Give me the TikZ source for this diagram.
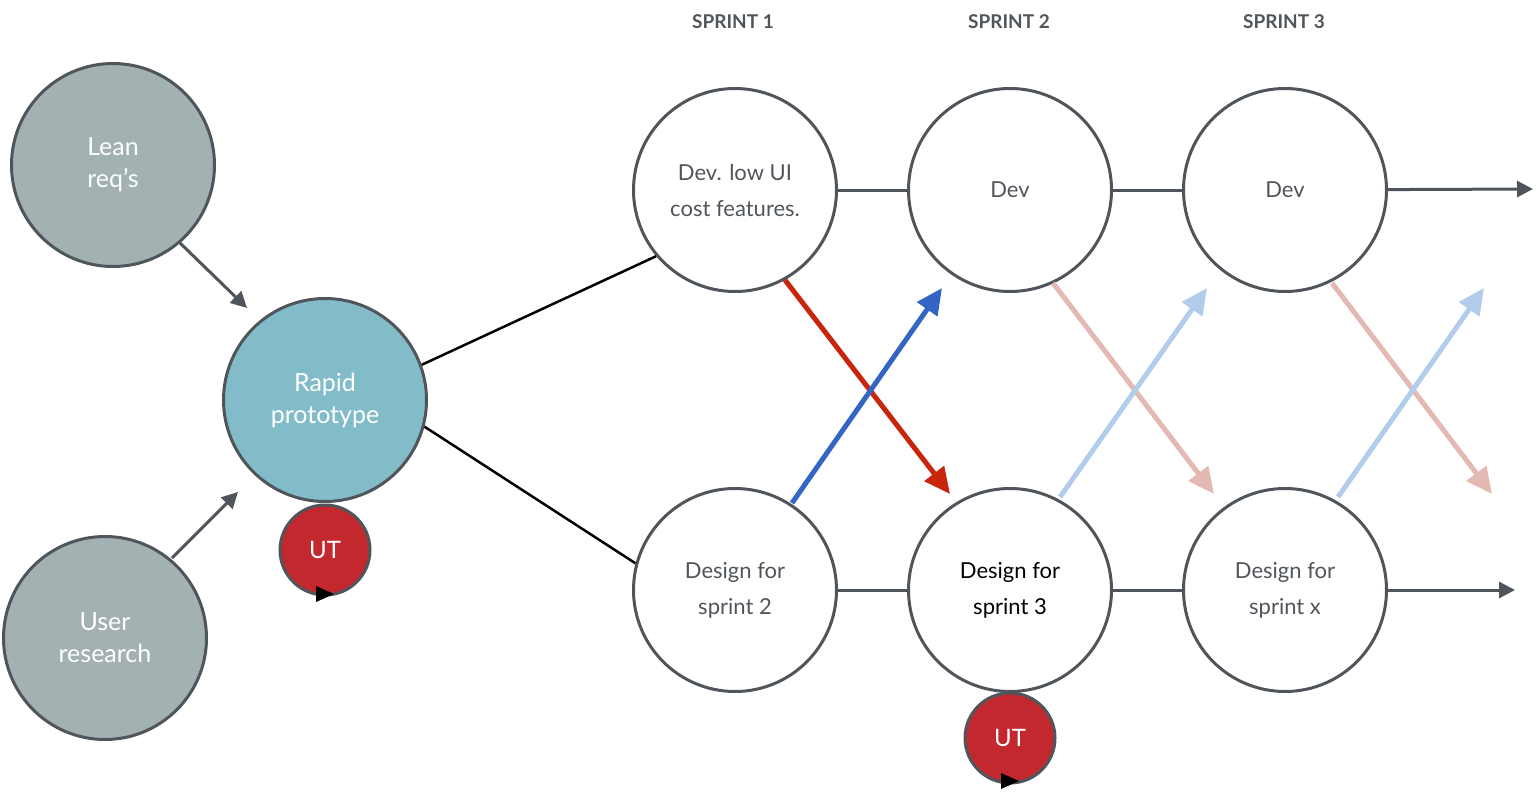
\documentclass[tikz,border=0pt]{standalone}
\usepackage{fontspec}
\setmainfont{Lato}
\usetikzlibrary{arrows.meta}
\definecolor{edge}{HTML}{50555C}
\definecolor{grayf}{HTML}{A3B1B3}
\definecolor{tealf}{HTML}{83BCC9}
\definecolor{utred}{HTML}{C4282F}
\definecolor{ared}{HTML}{C8250D}
\definecolor{ablue}{HTML}{3565C4}
\definecolor{fred}{HTML}{E4B8B3}
\definecolor{fblue}{HTML}{B2CDEC}
\begin{document}
\begin{tikzpicture}[x=1pt,y=-1pt,
  big/.style={circle,draw=edge,line width=3pt,minimum size=203pt,inner sep=0pt,align=center,font=\fontsize{25}{32}\selectfont\color{white}},
  wnode/.style={circle,draw=edge,line width=3pt,fill=white,minimum size=203pt,inner sep=0pt,align=center,font=\fontsize{22}{36}\selectfont\color{edge}},
  ut/.style={circle,draw=edge,line width=3pt,fill=utred,minimum size=90pt,inner sep=0pt,font=\fontsize{24}{28}\selectfont\color{white}},
  conn/.style={draw=edge,line width=3pt},
  garrow/.style={draw=edge,line width=3pt,-{Triangle[length=16pt,width=16pt]}},
  thin/.style={draw=black,line width=2.5pt},
  band/.style={line width=5pt,-{Triangle[length=26pt,width=24pt]}},
  hdr/.style={font=\bfseries\fontsize{19}{22}\selectfont\color{edge}}]
\useasboundingbox (0,0) rectangle (1539,795);
\node[hdr] (s1) at (733,22) {SPRINT 1};
\node[hdr] (s2) at (1009,22) {SPRINT 2};
\node[hdr] (s3) at (1284,22) {SPRINT 3};
\node[big,fill=grayf] (lean) at (113,165) {Lean\\req’s};
\node[big,fill=grayf] (user) at (105,638) {User\\research};
\node[big,fill=tealf] (rapid) at (325,400) {Rapid\\prototype};
\node[ut] (ut1) at (325,550) {UT};
\fill[black] (316,586) -- (334,594) -- (316,602) -- cycle;
\node[wnode] (d1) at (735,190) {Dev. low UI\\cost features.};
\node[wnode] (d2) at (1010,190) {Dev};
\node[wnode] (d3) at (1285,190) {Dev};
\node[wnode] (g2) at (735,590) {Design for\\sprint 2};
\node[wnode,font=\fontsize{22}{36}\selectfont\color{black}] (g3) at (1010,590) {Design for\\sprint 3};
\node[wnode] (gx) at (1285,590) {Design for\\sprint x};
\node[ut] (ut2) at (1010,738) {UT};
\fill[black] (1001,773) -- (1019,781) -- (1001,789) -- cycle;
\coordinate (e1) at (1533,189);
\coordinate (e2) at (1515,590);
\coordinate (la) at (180,243); \coordinate (lb) at (247,308);
\coordinate (ua) at (172,558); \coordinate (ub) at (238,492);
\draw[garrow] (la) -- (lb);
\draw[garrow] (ua) -- (ub);
\draw[thin] (rapid.20) -- (d1.220);
\draw[thin] (rapid.-15) -- (g2.165);
\draw[conn] (d1) -- (d2); \draw[conn] (d2) -- (d3);
\draw[garrow] (d3) -- (e1);
\draw[conn] (g2) -- (g3); \draw[conn] (g3) -- (gx);
\draw[garrow] (gx) -- (e2);
\coordinate (r1a) at (785,280); \coordinate (r1b) at (950,494);
\coordinate (b1a) at (792,503); \coordinate (b1b) at (942,288);
\coordinate (r2a) at (1053,283); \coordinate (r2b) at (1214,494);
\coordinate (r3a) at (1332,283); \coordinate (r3b) at (1492,494);
\coordinate (b2a) at (1060,497); \coordinate (b2b) at (1207,288);
\coordinate (b3a) at (1338,497); \coordinate (b3b) at (1484,288);
\draw[band,draw=ared,fill=ared] (r1a) -- (r1b);
\draw[band,draw=ablue,fill=ablue] (b1a) -- (b1b);
\draw[band,draw=fred,fill=fred] (r2a) -- (r2b);
\draw[band,draw=fred,fill=fred] (r3a) -- (r3b);
\draw[band,draw=fblue,fill=fblue] (b2a) -- (b2b);
\draw[band,draw=fblue,fill=fblue] (b3a) -- (b3b);
\end{tikzpicture}
\end{document}
